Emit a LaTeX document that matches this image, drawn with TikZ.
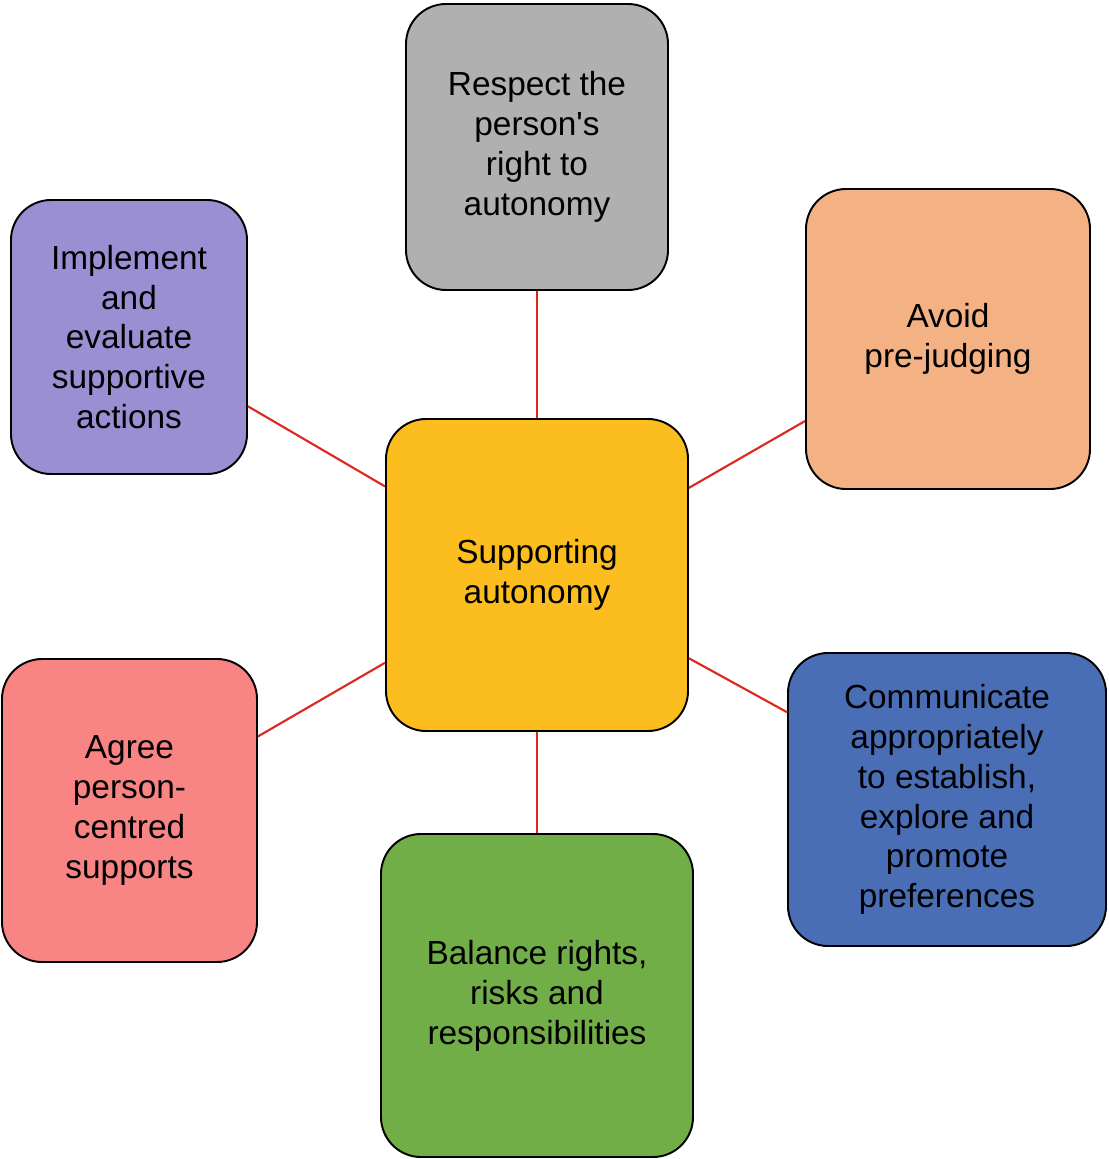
\documentclass[tikz,border=0pt]{standalone}
\usepackage{fontspec}
\setmainfont{Liberation Sans}
\usepackage{tikz}
\usetikzlibrary{calc,positioning,shapes}

\definecolor{boxgray}{RGB}{176,176,176}
\definecolor{boxpurple}{RGB}{155,143,212}
\definecolor{boxorange}{RGB}{244,178,132}
\definecolor{boxyellow}{RGB}{251,190,30}
\definecolor{boxsalmon}{RGB}{248,132,132}
\definecolor{boxblue}{RGB}{74,110,181}
\definecolor{boxgreen}{RGB}{114,174,71}
\definecolor{linkred}{RGB}{222,38,28}

\tikzset{
	topic/.style={draw=black, line width=1.1pt, rounded corners=0.8cm, align=center, inner sep=0pt,
		font=\fontsize{19}{22.7}\selectfont},
	link/.style={draw=linkred, line width=1.2pt}
}

\begin{document}
\begin{tikzpicture}
	\useasboundingbox (0,0) rectangle (22.18,-23.18);
	% Place nodes
	\node [topic, fill=boxyellow, minimum width=6.04cm, minimum height=6.24cm] (centre) at (10.74,-11.50) {Supporting\\autonomy};
	\node [topic, fill=boxgray, minimum width=5.24cm, minimum height=5.72cm] (respect) at (10.74,-2.94) {Respect the\\person\textquotesingle s\\right to\\autonomy};
	\node [topic, fill=boxpurple, minimum width=4.72cm, minimum height=5.48cm] (implement) at (2.58,-6.74) {Implement\\and\\evaluate\\supportive\\actions};
	\node [topic, fill=boxorange, minimum width=5.68cm, minimum height=6.00cm] (avoid) at (18.96,-6.78) {Avoid\\pre-judging};
	\node [topic, fill=boxsalmon, minimum width=5.10cm, minimum height=6.06cm] (agree) at (2.59,-16.21) {Agree\\person-\\centred\\supports};
	\node [topic, fill=boxblue, minimum width=6.36cm, minimum height=5.86cm] (communicate) at (18.94,-15.99) {Communicate\\appropriately\\to establish,\\explore and\\promote\\preferences};
	\node [topic, fill=boxgreen, minimum width=6.24cm, minimum height=6.46cm] (balance) at (10.74,-19.91) {Balance rights,\\risks and\\responsibilities};
	
	% Draw edges
	\draw [link] (centre) -- (respect);
	\draw [link] (centre) -- (implement);
	\draw [link] (centre) -- (avoid);
	\draw [link] (centre) -- (agree);
	\draw [link] (centre) -- (communicate);
	\draw [link] (centre) -- (balance);
\end{tikzpicture}
\end{document}
